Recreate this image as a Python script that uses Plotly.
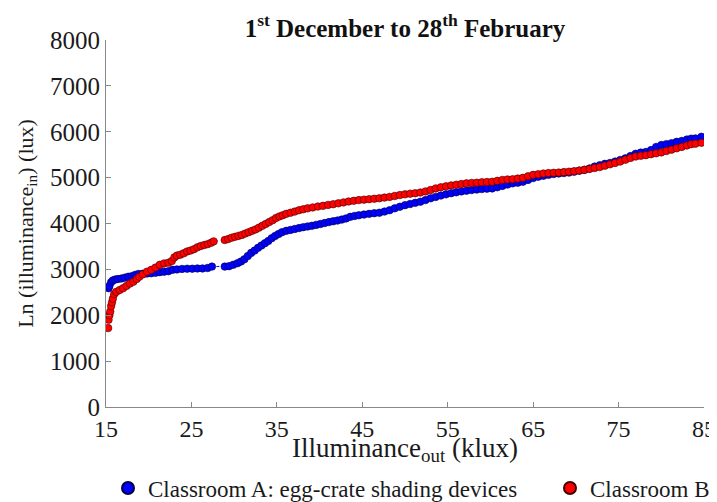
import plotly.graph_objects as go

# Classroom A: egg-crate shading devices
a_x = [15.3, 15.4, 15.6, 15.8, 16.1, 16.4, 16.8, 17.2, 17.6, 18.0, 18.4, 18.8, 19.3, 19.8, 20.3, 20.8,
       21.3, 21.8, 22.3, 22.8, 23.3, 23.9, 24.5, 25.1, 25.7, 26.3, 26.9, 27.4,
       28.9, 29.4, 29.9, 30.4, 30.8, 31.2, 31.6, 32.0, 32.4, 32.8, 33.2, 33.6, 34.0, 34.4, 34.8,
       35.2, 35.6, 36.1, 36.6, 37.1, 37.6, 38.1, 38.6, 39.1, 39.6, 40.1, 40.6, 41.1, 41.6, 42.1,
       42.6, 43.1, 43.6, 44.1, 44.6, 45.2, 45.8, 46.4, 47.0, 47.6, 48.2, 48.8, 49.4, 50.0, 50.6,
       51.2, 51.8, 52.4, 53.0, 53.6, 54.2, 54.8, 55.4, 56.0, 56.6, 57.2, 57.8, 58.4, 59.0, 59.6,
       60.2, 60.8, 61.4, 62.0, 62.6, 63.2, 63.8, 64.4, 65.0, 65.6, 66.2, 66.8, 67.4, 68.0, 68.6,
       69.2, 69.8, 70.4, 71.0, 71.6, 72.2, 72.8, 73.4, 74.0, 74.6, 75.2, 75.8, 76.4, 77.0, 77.6,
       78.2, 78.8, 79.4, 80.0, 80.6, 81.2, 81.8, 82.4, 83.0, 83.5, 84.0, 84.7]
a_y = [2590, 2640, 2720, 2760, 2780, 2790, 2800, 2820, 2840, 2850, 2880, 2900, 2905, 2910, 2915, 2925,
       2940, 2950, 2960, 2990, 3000, 3010, 3015, 3015, 3020, 3020, 3030, 3060,
       3060, 3070, 3100, 3135, 3170, 3220, 3290, 3360, 3410, 3470, 3520, 3570, 3620, 3680, 3730,
       3770, 3810, 3840, 3860, 3880, 3900, 3920, 3935, 3950, 3970, 3990, 4010, 4030, 4050, 4065,
       4085, 4110, 4145, 4165, 4180, 4195, 4210, 4225, 4235, 4260, 4290, 4330, 4365, 4400, 4425,
       4450, 4475, 4510, 4550, 4580, 4610, 4635, 4660, 4680, 4700, 4715, 4730, 4740, 4750, 4760,
       4765, 4790, 4820, 4850, 4875, 4890, 4910, 4950, 4990, 5020, 5040, 5060, 5080, 5090, 5100,
       5110, 5130, 5150, 5170, 5200, 5240, 5270, 5300, 5320, 5350, 5385, 5420, 5470, 5520, 5545,
       5560, 5600, 5670, 5710, 5730, 5750, 5780, 5800, 5830, 5850, 5855, 5890]

# Classroom B
b_x = [15.25, 15.3, 15.4, 15.5, 15.6, 15.7, 15.8, 15.95, 16.2, 16.6, 17.0, 17.4, 17.8, 18.2, 18.6,
       18.9, 19.3, 19.8, 20.3, 20.8, 21.3, 21.8, 22.3, 22.7, 23.0, 23.3, 23.7, 24.1, 24.5, 24.9,
       25.3, 25.7, 26.1, 26.5, 26.9, 27.3, 27.6,
       28.9, 29.3, 29.7, 30.1, 30.5, 30.9, 31.3, 31.7, 32.1, 32.5, 32.9, 33.3, 33.7, 34.1, 34.5,
       34.9, 35.3, 35.7, 36.1, 36.6, 37.1, 37.6, 38.1, 38.6, 39.2, 39.8, 40.4, 41.0, 41.6, 42.2,
       42.8, 43.4, 44.0, 44.6, 45.2, 45.8, 46.4, 47.0, 47.6, 48.2, 48.8, 49.4, 50.0, 50.6, 51.2,
       51.8, 52.4, 53.0, 53.6, 54.2, 54.8, 55.4, 56.0, 56.6, 57.2, 57.8, 58.4, 59.0, 59.6, 60.2,
       60.8, 61.4, 62.0, 62.6, 63.2, 63.8, 64.4, 65.0, 65.6, 66.2, 66.8, 67.4, 68.0, 68.6, 69.2,
       69.8, 70.4, 71.0, 71.6, 72.2, 72.8, 73.4, 74.0, 74.6, 75.2, 75.8, 76.4, 77.0, 77.6, 78.2,
       78.8, 79.4, 80.0, 80.6, 81.2, 81.8, 82.4, 83.0, 83.5, 84.0, 84.7]
b_y = [1720, 1900, 2000, 2080, 2200, 2280, 2360, 2460, 2510, 2550, 2590, 2640, 2690, 2730, 2790,
       2840, 2890, 2950, 2990, 3040, 3100, 3130, 3145, 3180, 3260, 3300, 3320, 3350, 3390, 3410,
       3440, 3480, 3510, 3530, 3550, 3580, 3610,
       3640, 3660, 3690, 3710, 3730, 3750, 3780, 3810, 3840, 3870, 3910, 3950, 3990, 4030, 4070,
       4120, 4155, 4180, 4210, 4235, 4260, 4290, 4310, 4330, 4350, 4370, 4385, 4405, 4420, 4440,
       4460, 4480, 4495, 4510, 4520, 4530, 4540, 4550, 4565, 4580, 4600, 4620, 4635, 4650, 4660,
       4675, 4700, 4730, 4765, 4790, 4810, 4830, 4845, 4860, 4875, 4885, 4890, 4900, 4905, 4910,
       4930, 4950, 4960, 4965, 4980, 4995, 5030, 5060, 5075, 5090, 5100, 5105, 5110, 5120, 5130,
       5140, 5155, 5170, 5190, 5210, 5230, 5260, 5290, 5320, 5350, 5390, 5430, 5460, 5475, 5490,
       5510, 5530, 5550, 5580, 5610, 5640, 5670, 5700, 5730, 5740, 5760]

x_ticks = [15, 25, 35, 45, 55, 65, 75, 85]
y_ticks = [0, 1000, 2000, 3000, 4000, 5000, 6000, 7000, 8000]

FONT = "Liberation Serif"
TXT = "#1a1a1a"

# the page body has an 8px default margin, so the figure is sized to the remaining area
W, H = 709, 494
OFF = 8


def cx(px):
    return (px - OFF) / W


def cy(py):
    return 1 - (py - OFF) / H


series = [
    ("Classroom A: egg-crate shading devices", a_x, a_y, "#0000ff", "#000040", "legend"),
    ("Classroom B", b_x, b_y, "#ff0000", "#400000", "legend2"),
]

fig = go.Figure()
for name, xs, ys, col, edge, lg in series:
    fig.add_trace(go.Scatter(
        x=xs, y=ys, mode="lines", showlegend=False, hoverinfo="skip",
        line=dict(color=col, width=1, dash="dot"),
    ))
for name, xs, ys, col, edge, lg in series:
    fig.add_trace(go.Scatter(
        x=xs, y=ys, mode="markers", name=name, legend=lg,
        marker=dict(color=col, size=7.5, line=dict(color=edge, width=0.6)),
    ))

legend_common = dict(orientation="h", xanchor="left", yref="container", xref="container",
                     y=cy(488), yanchor="middle",
                     font=dict(family=FONT, size=23, color=TXT),
                     itemsizing="constant", bgcolor="rgba(0,0,0,0)")

fig.update_layout(
    width=W, height=H,
    margin=dict(l=106 - OFF, r=717 - 704, t=40 - OFF, b=502 - 407),
    paper_bgcolor="white", plot_bgcolor="white",
    font=dict(family=FONT, color=TXT, size=22),
    title=dict(text="<b>1<sup>st</sup> December to 28<sup>th</sup> February</b>",
               x=0.5, xref="paper", xanchor="center",
               y=cy(28), yref="container", yanchor="middle",
               font=dict(family=FONT, size=25, color="#111111")),
    showlegend=True,
    legend=dict(x=cx(108), **legend_common),
    legend2=dict(x=cx(550), **legend_common),
)
fig.update_xaxes(
    range=[15, 85], tickvals=x_ticks, ticktext=[str(v) for v in x_ticks],
    showline=True, linecolor="#888888", linewidth=1, mirror=False, automargin=False,
    ticks="inside", ticklen=5, tickcolor="#888888", showgrid=False, zeroline=False,
    tickfont=dict(family=FONT, size=24, color=TXT),
    title=dict(text="Illuminance<sub>out</sub> (klux)", standoff=16,
               font=dict(family=FONT, size=27, color=TXT)),
)
fig.update_yaxes(
    range=[0, 8000], tickvals=y_ticks, ticktext=[str(v) for v in y_ticks],
    showline=True, linecolor="#888888", linewidth=1, mirror=False, automargin=False,
    ticks="inside", ticklen=5, tickcolor="#888888", showgrid=False, zeroline=False,
    tickfont=dict(family=FONT, size=25, color=TXT),
    title=dict(text="Ln (illuminance<sub>in</sub>) (lux)", standoff=10,
               font=dict(family=FONT, size=22, color=TXT)),
)

fig.write_html("out.html")
